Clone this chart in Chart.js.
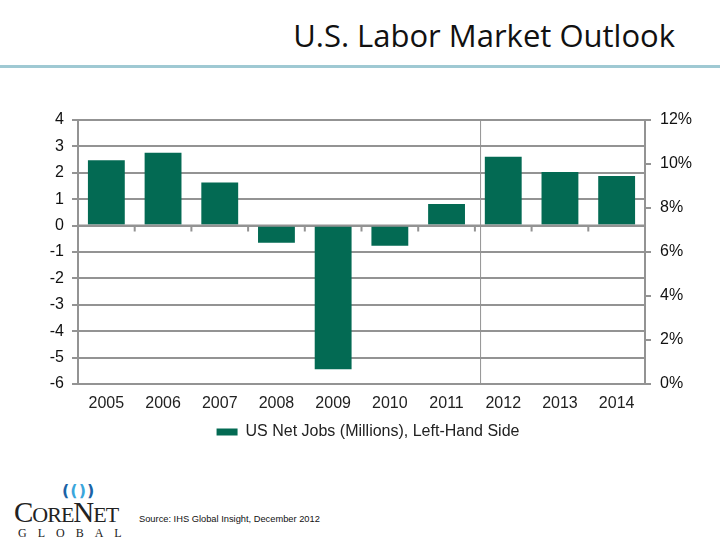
<!DOCTYPE html>
<html><head><meta charset="utf-8">
<script src="https://cdn.jsdelivr.net/npm/chart.js@4.4.1/dist/chart.umd.min.js"></script>
<style>
html,body{margin:0;padding:0;background:#fff;width:720px;height:540px;overflow:hidden;position:relative}
#title{position:absolute;right:45px;top:14px;font-family:"Open Sans",Lato,sans-serif;font-size:31px;color:#111;white-space:nowrap}
#rule{position:absolute;left:0;top:65px;width:720px;height:3px;background:#9fc9d3}
#wrap{position:absolute;left:0;top:0;width:720px;height:460px}
#logo{position:absolute;left:12px;top:482px;width:115px;height:56px;font-family:"Liberation Serif",serif;color:#222}
#swirl{position:absolute;left:50px;top:-1px;font-family:"DejaVu Sans",sans-serif;font-size:16px;font-weight:bold;letter-spacing:1px;white-space:nowrap}
#swirl .o{color:#1b63a6}
#swirl .i{color:#3aa6dc}
#core{position:absolute;left:2px;top:14px;font-size:29px;letter-spacing:-1px;white-space:nowrap}
#core small{font-size:22px}
#glob{position:absolute;left:6px;top:44px;font-size:12px;letter-spacing:11px;white-space:nowrap}
#source{position:absolute;left:139px;top:514px;font-family:"Liberation Sans Narrow","Liberation Sans",sans-serif;font-size:9.3px;color:#111;white-space:nowrap}
</style></head>
<body>
<div id="title">U.S. Labor Market Outlook</div>
<div id="rule"></div>
<div id="wrap"><canvas id="c" width="720" height="460"></canvas></div>
<div id="logo"><div id="swirl"><span class="o">(</span><span class="i">()</span><span class="o">)</span></div><div id="core">C<small>ORE</small>N<small>ET</small></div><div id="glob">GLOBAL</div></div>
<div id="source">Source: IHS Global Insight, December 2012</div>
<script>
const categories = ['2005','2006','2007','2008','2009','2010','2011','2012','2013','2014'];
const netJobs = [2.48, 2.76, 1.63, -0.65, -5.44, -0.76, 0.82, 2.61, 2.03, 1.88];
const leftMin = -6, leftMax = 4, leftStep = 1;
const rightMin = 0, rightMax = 12, rightStep = 2;
const seriesLabel = 'US Net Jobs (Millions), Left-Hand Side';
const forecastDividerAt = 6.6;

const gridColor = '#939393';
const barColor = '#036a53';

const zeroTicks = {
  id: 'zeroTicks',
  afterDatasetsDraw(chart) {
    const {ctx, scales: {x, y}, chartArea} = chart;
    const y0 = y.getPixelForValue(0);
    ctx.save();
    ctx.strokeStyle = gridColor;
    ctx.lineWidth = 2;
    ctx.beginPath();
    ctx.moveTo(chartArea.left, y0); ctx.lineTo(chartArea.right, y0);
    for (let i = 1; i < categories.length; i++) {
      const bx = (x.getPixelForValue(i - 1) + x.getPixelForValue(i)) / 2;
      ctx.moveTo(bx, y0); ctx.lineTo(bx, y0 + 6);
    }
    ctx.stroke();
    ctx.lineWidth = 1;
    const dx = x.getPixelForValue(forecastDividerAt);
    ctx.beginPath();
    ctx.moveTo(dx, chartArea.top); ctx.lineTo(dx, chartArea.bottom);
    ctx.stroke();
    ctx.restore();
  }
};

new Chart(document.getElementById('c'), {
  type: 'bar',
  data: {
    labels: categories,
    datasets: [{
      label: seriesLabel,
      data: netJobs,
      backgroundColor: barColor,
      borderWidth: 0,
      barPercentage: 0.65,
      categoryPercentage: 1.0,
      yAxisID: 'y'
    }]
  },
  plugins: [zeroTicks],
  options: {
    responsive: false,
    animation: false,
    layout: { padding: { top: 120, bottom: 10, left: 16, right: 0 } },
    plugins: {
      tooltip: { enabled: false },
      legend: {
        position: 'bottom',
        labels: {
          boxWidth: 21, boxHeight: 7, padding: 10,
          color: '#222',
          font: { family: '"Liberation Sans",Arial', size: 16 }
        }
      }
    },
    scales: {
      x: {
        offset: true,
        grid: { display: false, drawTicks: false },
        border: { display: true, color: gridColor, width: 2 },
        ticks: { color: '#222', padding: 10, font: { family: '"Liberation Sans",Arial', size: 16 } },
        afterFit(s) { s.height = 30; }
      },
      y: {
        position: 'left',
        min: leftMin, max: leftMax,
        ticks: { stepSize: leftStep, color: '#111', padding: 8, font: { family: '"Liberation Sans",Arial', size: 16 } },
        grid: { color: gridColor, lineWidth: 2, tickLength: 6, drawTicks: true },
        border: { display: true, color: gridColor, width: 2 },
        afterFit(s) { s.width = 62; }
      },
      y2: {
        position: 'right',
        min: rightMin, max: rightMax,
        ticks: { stepSize: rightStep, color: '#111', padding: 9, font: { family: '"Liberation Sans",Arial', size: 16 }, callback: v => v + '%' },
        grid: { drawOnChartArea: false, color: gridColor, lineWidth: 2, tickLength: 6 },
        border: { display: true, color: gridColor, width: 2 },
        afterFit(s) { s.width = 75; }
      }
    }
  }
});
</script>
</body></html>
